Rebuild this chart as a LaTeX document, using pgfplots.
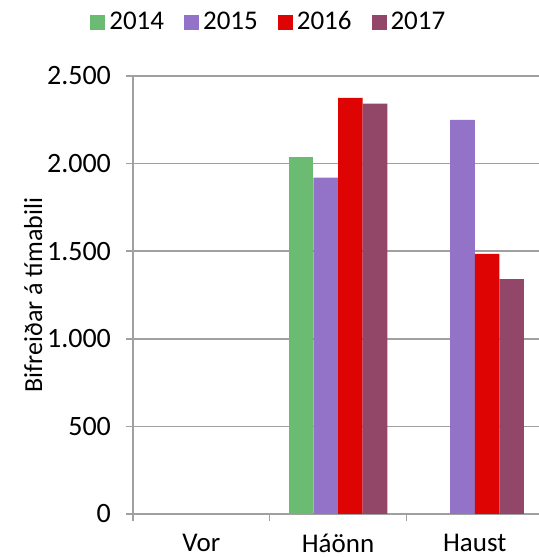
\documentclass[border=0pt]{standalone}
\usepackage{pgfplots}
\pgfplotsset{compat=1.18}
\usepackage{fontspec}
\setmainfont{Carlito}

\definecolor{c2014}{RGB}{107,187,114}
\definecolor{c2015}{RGB}{147,115,199}
\definecolor{c2016}{RGB}{222,4,4}
\definecolor{c2017}{RGB}{146,70,104}
\definecolor{gridgray}{RGB}{160,160,160}

\begin{document}
\begin{tikzpicture}
\useasboundingbox (-66.5pt,-21.5pt) rectangle (203pt,257pt);
\begin{axis}[
    at={(0,0)}, anchor=south west,
    scale only axis,
    width=203pt, height=219pt,
    xmin=-0.5, xmax=2.47,
    ymin=0, ymax=2500,
    axis lines*=left,
    axis line style={gridgray, line width=0.75pt},
    ybar=0pt, bar width=12.3pt,
    ytick={0,500,1000,1500,2000,2500},
    ymajorgrids,
    grid style={gridgray, line width=0.75pt},
    xtick={0,1,2},
    xticklabels={Vor,Háönn,Haust},
    minor xtick={-0.5,0.5,1.5},
    tick align=outside,
    major tick length=3.5pt,
    minor tick length=3.5pt,
    x tick style={draw=none},
    minor x tick style={draw=gridgray, line width=0.75pt},
    y tick style={gridgray, line width=0.75pt},
    xticklabel style={font=\fontsize{13.5}{15}\selectfont, inner sep=1pt, yshift=-5.5pt},
    yticklabel style={font=\fontsize{14}{16}\selectfont, xshift=-4pt},
    /pgf/number format/.cd, 1000 sep={.}, assume math mode=true, /pgfplots/.cd,
    ylabel={Bifreiðar á tímabili},
    ylabel shift=-4.5pt,
    ylabel style={font=\fontsize{13}{15}\selectfont},
    legend columns=-1,
    legend style={at={(axis description cs:0.337,1.123)}, anchor=center,
        draw=none, fill=none, font=\fontsize{13.5}{15}\selectfont,
        nodes={inner sep=2pt},
        /tikz/every even column/.append style={column sep=8pt}},
    legend image code/.code={\fill[#1] (0pt,-3.75pt) rectangle (7.5pt,3.75pt);},
]
\addplot[fill=c2014, draw=none] coordinates {(1,2040)};
\addplot[fill=c2015, draw=none] coordinates {(1,1920) (2,2250)};
\addplot[fill=c2016, draw=none] coordinates {(1,2375) (2,1485)};
\addplot[fill=c2017, draw=none] coordinates {(1,2342) (2,1340)};
\legend{2014,2015,2016,2017}
\end{axis}
\end{tikzpicture}
\end{document}
